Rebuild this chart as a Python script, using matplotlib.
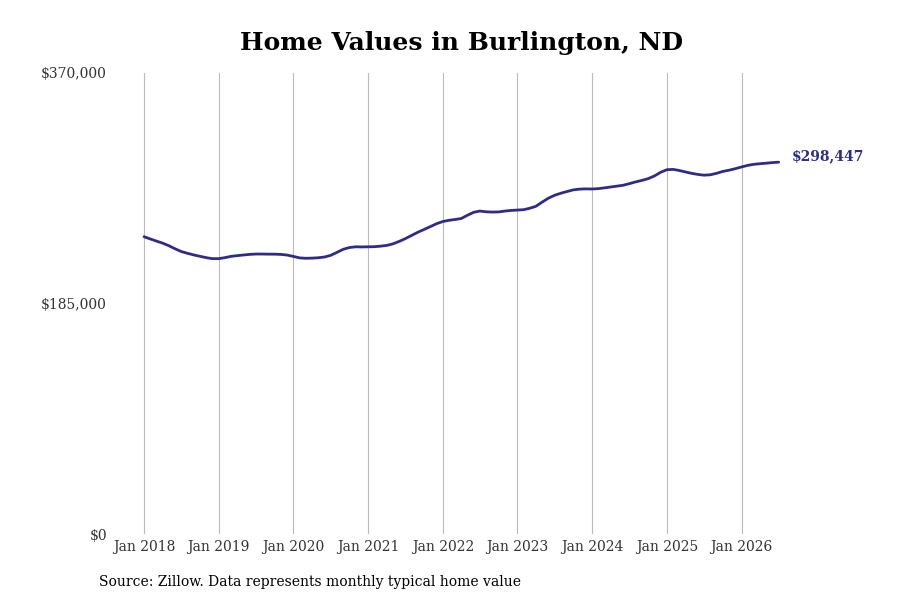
import numpy as np, matplotlib.pyplot as plt
import matplotlib.dates as mdates
import pandas as pd

# monthly typical home value, Jan 2018 .. Jul 2026 (in $k)
start = "2018-01-01"
values_k = [
    238.6, 236.8, 235.2, 233.5, 231.5, 229.0, 226.8, 225.3, 224.0, 222.9, 221.8, 221.0,
    221.0, 221.8, 222.8, 223.4, 223.9, 224.4, 224.7, 224.7, 224.6, 224.6, 224.4, 223.9,
    222.8, 221.6, 221.3, 221.4, 221.7, 222.3, 223.6, 226.0, 228.5, 229.9, 230.5, 230.4,
    230.5, 230.6, 231.0, 231.6, 232.8, 234.8, 237.0, 239.6, 242.2, 244.4, 246.7, 249.0,
    250.8, 251.8, 252.4, 253.2, 255.8, 258.2, 259.2, 258.6, 258.4, 258.5, 259.2, 259.7,
    260.0, 260.3, 261.4, 263.0, 266.3, 269.5, 271.8, 273.5, 274.9, 276.2, 276.8, 277.0,
    276.9, 277.2, 277.8, 278.5, 279.2, 279.9, 281.2, 282.6, 283.8, 285.2, 287.4, 290.3,
    292.4, 292.6, 291.8, 290.6, 289.5, 288.6, 288.0, 288.3, 289.5, 291.0, 292.0, 293.2,
    294.6, 295.9, 296.7, 297.2, 297.6, 298.1, 298.447,
]
ytick_vals = [0, 185000, 370000]
ytick_labels = ["$0", "$185,000", "$370,000"]
title = "Home Values in Burlington, ND"
source = "Source: Zillow. Data represents monthly typical home value"

dates = pd.date_range(start, periods=len(values_k), freq="MS")
vals = np.array(values_k) * 1000

LINE = "#2e2c85"
plt.rcParams["font.family"] = ["DejaVu Serif"]

fig = plt.figure(figsize=(9, 6), dpi=100)
# pixel layout: plot area x 120..790, y 73..534
ax = fig.add_axes([120/900, 66/600, 670/900, 461/600])
ax.plot(dates, vals, color=LINE, lw=2.0, solid_capstyle="round")

d0 = mdates.date2num(pd.Timestamp("2018-01-01"))
ppd = 74.7/365.25  # pixels per day
ax.set_xlim(d0 - 24/ppd, d0 + (790-144)/ppd)
ax.set_ylim(0, 370000)

years = pd.date_range("2018-01-01", "2026-01-01", freq="YS")
ax.set_xticks(years)
ax.set_xticklabels([d.strftime("Jan %Y") for d in years], fontsize=10, color="#333333")
ax.set_yticks(ytick_vals)
ax.set_yticklabels(ytick_labels, fontsize=10, color="#333333")
ax.tick_params(axis="both", length=0)
ax.tick_params(axis="y", pad=9.4)
ax.tick_params(axis="x", pad=4)
ax.grid(axis="x", color="#bbbbbb", lw=0.8)
ax.set_axisbelow(True)
for s in ax.spines.values():
    s.set_visible(False)

ax.annotate(f"${vals[-1]:,.0f}", xy=(dates[-1], vals[-1]), xytext=(9.7, 4),
            textcoords="offset points", fontsize=10, weight="bold", color=LINE,
            va="center", ha="left")

fig.text(461.5/900, 0.928, title, ha="center", va="center", fontsize=18, weight="bold")
fig.text(99/900, 0.03, source, ha="left", va="center", fontsize=10)

fig.savefig("out.png", dpi=100)
